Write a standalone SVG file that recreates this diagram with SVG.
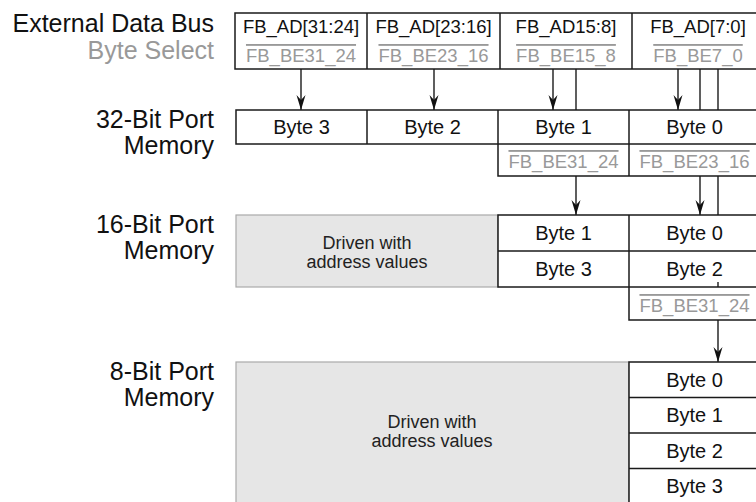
<svg xmlns="http://www.w3.org/2000/svg" width="756" height="502" viewBox="0 0 756 502">
<defs>
<style>
.lbl{font-family:"Liberation Sans",Arial,sans-serif;font-size:25px;fill:#111;text-anchor:end}
.lblg{font-family:"Liberation Sans",Arial,sans-serif;font-size:25px;fill:#999;text-anchor:end}
.ad{font-family:"Liberation Sans",Arial,sans-serif;font-size:18.5px;fill:#111;text-anchor:middle}
.be{font-family:"Liberation Sans",Arial,sans-serif;font-size:18.5px;fill:#999;text-anchor:middle;text-decoration:overline}
.byte{font-family:"Liberation Sans",Arial,sans-serif;font-size:20px;fill:#111;text-anchor:middle}
.drv{font-family:"Liberation Sans",Arial,sans-serif;font-size:18px;fill:#222;text-anchor:middle}
.box{fill:#fff;stroke:#1a1a1a;stroke-width:1.5}
.ln{fill:none;stroke:#1a1a1a;stroke-width:1.5}
.grey{fill:#e6e6e6;stroke:#aaa;stroke-width:1.2}
.conn{fill:none;stroke:#1a1a1a;stroke-width:1.4}
</style>
<marker id="ah" viewBox="-15 -5 16 10" refX="0" refY="0" markerWidth="16" markerHeight="10" markerUnits="userSpaceOnUse" orient="auto">
<path d="M0,0 L-15,-4.5 L-10,0 L-15,4.5 Z" fill="#111"/>
</marker>
</defs>

<g id="labels">
<text class="lbl" x="214" y="32">External Data Bus</text>
<text class="lblg" x="214" y="59">Byte Select</text>
<text class="lbl" x="214" y="128">32-Bit Port</text>
<text class="lbl" x="214" y="154">Memory</text>
<text class="lbl" x="214" y="233">16-Bit Port</text>
<text class="lbl" x="214" y="259">Memory</text>
<text class="lbl" x="214" y="380">8-Bit Port</text>
<text class="lbl" x="214" y="406">Memory</text>
</g>

<g id="connectors">
<line class="conn" x1="301" y1="69" x2="301" y2="110" marker-end="url(#ah)"/>
<line class="conn" x1="434" y1="69" x2="434" y2="110" marker-end="url(#ah)"/>
<line class="conn" x1="553" y1="69" x2="553" y2="110" marker-end="url(#ah)"/>
<line class="conn" x1="576" y1="69" x2="576" y2="110"/>
<line class="conn" x1="678" y1="69" x2="678" y2="110" marker-end="url(#ah)"/>
<line class="conn" x1="700" y1="69" x2="700" y2="110"/>
<line class="conn" x1="718" y1="69" x2="718" y2="110"/>
<line class="conn" x1="576" y1="176" x2="576" y2="215" marker-end="url(#ah)"/>
<line class="conn" x1="700" y1="176" x2="700" y2="215" marker-end="url(#ah)"/>
<line class="conn" x1="718" y1="176" x2="718" y2="215"/>
<line class="conn" x1="718" y1="320" x2="718" y2="362" marker-end="url(#ah)"/>
</g>

<g id="bus-table">
<rect class="box" x="235" y="13" width="535" height="56"/>
<line class="ln" x1="367" y1="13" x2="367" y2="69"/>
<line class="ln" x1="500" y1="13" x2="500" y2="69"/>
<line class="ln" x1="632" y1="13" x2="632" y2="69"/>
<text class="ad" x="301" y="33">FB_AD[31:24]</text>
<text class="ad" x="433.5" y="33">FB_AD[23:16]</text>
<text class="ad" x="566" y="33">FB_AD15:8]</text>
<text class="ad" x="698" y="33">FB_AD[7:0]</text>
<text class="be" x="301" y="62">FB_BE31_24</text>
<text class="be" x="433.5" y="62">FB_BE23_16</text>
<text class="be" x="566" y="62">FB_BE15_8</text>
<text class="be" x="698" y="62">FB_BE7_0</text>
</g>

<g id="mem32">
<rect class="box" x="236" y="110" width="534" height="34"/>
<line class="ln" x1="367" y1="110" x2="367" y2="144"/>
<line class="ln" x1="498" y1="110" x2="498" y2="144"/>
<line class="ln" x1="629" y1="110" x2="629" y2="144"/>
<text class="byte" x="301.5" y="134">Byte 3</text>
<text class="byte" x="432.5" y="134">Byte 2</text>
<text class="byte" x="563.5" y="134">Byte 1</text>
<text class="byte" x="694.5" y="134">Byte 0</text>
</g>

<g id="sel32">
<path class="ln" d="M498,144 V176 H770"/>
<line class="ln" x1="629" y1="144" x2="629" y2="176"/>
<text class="be" x="563.5" y="168">FB_BE31_24</text>
<text class="be" x="694.5" y="168">FB_BE23_16</text>
</g>

<g id="mem16">
<rect class="grey" x="236" y="215" width="262" height="72"/>
<text class="drv" x="367" y="249">Driven with</text>
<text class="drv" x="367" y="268">address values</text>
<rect class="box" x="498" y="215" width="272" height="72"/>
<line class="ln" x1="498" y1="251" x2="770" y2="251"/>
<line class="ln" x1="629" y1="215" x2="629" y2="287"/>
<line class="conn" x1="718" y1="282" x2="718" y2="287"/>
<text class="byte" x="563.5" y="240">Byte 1</text>
<text class="byte" x="694.5" y="240">Byte 0</text>
<text class="byte" x="563.5" y="276">Byte 3</text>
<text class="byte" x="694.5" y="276">Byte 2</text>
</g>

<g id="sel16">
<path class="ln" d="M629,287 V320 H770"/>
<text class="be" x="694.5" y="312">FB_BE31_24</text>
</g>

<g id="mem8">
<rect class="grey" x="236" y="362" width="393" height="150"/>
<text class="drv" x="432" y="428">Driven with</text>
<text class="drv" x="432" y="447">address values</text>
<rect class="box" x="629" y="362" width="141" height="150"/>
<line class="ln" x1="629" y1="397.5" x2="770" y2="397.5"/>
<line class="ln" x1="629" y1="433" x2="770" y2="433"/>
<line class="ln" x1="629" y1="468.5" x2="770" y2="468.5"/>
<text class="byte" x="694.5" y="387">Byte 0</text>
<text class="byte" x="694.5" y="422">Byte 1</text>
<text class="byte" x="694.5" y="458">Byte 2</text>
<text class="byte" x="694.5" y="493">Byte 3</text>
</g>
</svg>
